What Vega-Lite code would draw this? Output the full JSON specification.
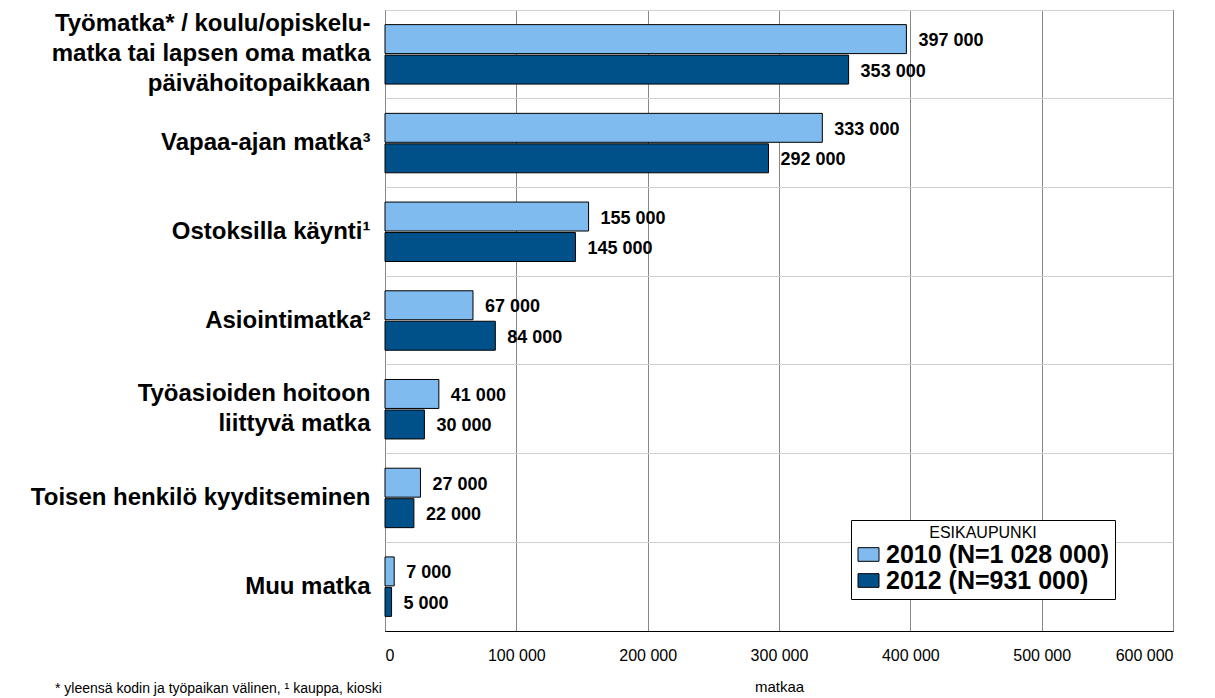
{
  "$schema": "https://vega.github.io/schema/vega-lite/v6.json",
  "width": 788,
  "height": 621,
  "autosize": "none",
  "padding": {"left": 385, "top": 10, "right": 42, "bottom": 67},
  "background": "white",
  "config": {
    "font": "Liberation Sans",
    "view": {"stroke": "black", "strokeWidth": 1}
  },
  "title": {
    "text": "* yleensä kodin ja työpaikan välinen, ¹ kauppa, kioski",
    "orient": "bottom",
    "anchor": "start",
    "frame": "group",
    "dx": -330,
    "offset": -12,
    "fontSize": 14,
    "fontWeight": "normal",
    "font": "Liberation Sans",
    "color": "black"
  },
  "data": {
    "values": [
      {"cat": "Työmatka* / koulu/opiskelu-|matka tai lapsen oma matka|päivähoitopaikkaan ", "year": "2010 (N=1 028 000)", "v": 397000},
      {"cat": "Työmatka* / koulu/opiskelu-|matka tai lapsen oma matka|päivähoitopaikkaan ", "year": "2012 (N=931 000)", "v": 353000},
      {"cat": "Vapaa-ajan matka³", "year": "2010 (N=1 028 000)", "v": 333000},
      {"cat": "Vapaa-ajan matka³", "year": "2012 (N=931 000)", "v": 292000},
      {"cat": "Ostoksilla käynti¹", "year": "2010 (N=1 028 000)", "v": 155000},
      {"cat": "Ostoksilla käynti¹", "year": "2012 (N=931 000)", "v": 145000},
      {"cat": "Asiointimatka²", "year": "2010 (N=1 028 000)", "v": 67000},
      {"cat": "Asiointimatka²", "year": "2012 (N=931 000)", "v": 84000},
      {"cat": "Työasioiden hoitoon|liittyvä matka ", "year": "2010 (N=1 028 000)", "v": 41000},
      {"cat": "Työasioiden hoitoon|liittyvä matka ", "year": "2012 (N=931 000)", "v": 30000},
      {"cat": "Toisen henkilö kyyditseminen", "year": "2010 (N=1 028 000)", "v": 27000},
      {"cat": "Toisen henkilö kyyditseminen", "year": "2012 (N=931 000)", "v": 22000},
      {"cat": "Muu matka", "year": "2010 (N=1 028 000)", "v": 7000},
      {"cat": "Muu matka", "year": "2012 (N=931 000)", "v": 5000}
    ]
  },
  "transform": [
    {"calculate": "join(split(format(datum.v, ','), ','), ' ')", "as": "lbl"}
  ],
  "encoding": {
    "y": {
      "field": "cat",
      "type": "nominal",
      "sort": null,
      "scale": {"paddingInner": 0, "paddingOuter": 0},
      "axis": {
        "title": null,
        "domain": false,
        "ticks": false,
        "grid": true,
        "bandPosition": 0,
        "gridColor": "#d0d0d0",
        "gridWidth": 1,
        "labelExpr": "split(datum.label, '|')",
        "labelFont": "Liberation Sans",
        "labelFontSize": 24,
        "labelFontWeight": "bold",
        "labelColor": "black",
        "labelPadding": 15,
        "labelLineHeight": 30,
        "labelLimit": 420,
        "labelOffset": {
          "condition": [
            {"test": "indexof(datum.value, 'Työmatka*') >= 0", "value": -30},
            {"test": "indexof(datum.value, 'Työasioiden') >= 0", "value": -15}
          ],
          "value": 0
        }
      }
    },
    "yOffset": {
      "field": "year",
      "type": "nominal",
      "scale": {"paddingOuter": 0.48, "paddingInner": 0.05}
    },
    "x": {
      "field": "v",
      "type": "quantitative",
      "scale": {"domain": [0, 600000], "nice": false},
      "axis": {
        "title": "matkaa",
        "titleFontWeight": "normal",
        "titleFontSize": 15,
        "titleColor": "black",
        "titlePadding": 16,
        "values": [0, 100000, 200000, 300000, 400000, 500000, 600000],
        "labelExpr": "join(split(format(datum.value, ','), ','), ' ')",
        "labelFontSize": 16,
        "labelColor": "black",
        "labelPadding": 16,
        "domainColor": "black",
        "ticks": false,
        "grid": true,
        "gridColor": "#888888",
        "gridWidth": 1
      }
    }
  },
  "layer": [
    {
      "mark": {"type": "bar", "stroke": "black", "strokeWidth": 1},
      "encoding": {
        "color": {
          "field": "year",
          "type": "nominal",
          "scale": {"range": ["#7fbbee", "#00508a"]},
          "legend": {
            "title": "ESIKAUPUNKI",
            "orient": "none",
            "legendX": 466,
            "legendY": 510,
            "strokeColor": "black",
            "fillColor": "white",
            "padding": 5,
            "titleAnchor": "middle",
            "titleFontWeight": "normal",
            "titleFontSize": 16,
            "titleColor": "black",
            "titleFont": "Liberation Sans",
            "titlePadding": 1,
            "labelFontSize": 25,
            "labelFontWeight": "bold",
            "labelColor": "black",
            "labelFont": "Liberation Sans",
            "labelLimit": 400,
            "symbolType": "M-1,-0.65H1V0.65H-1Z",
            "symbolSize": 441,
            "symbolStrokeColor": "black",
            "symbolStrokeWidth": 1,
            "symbolOpacity": 1,
            "rowPadding": 0,
            "labelOffset": 5
          }
        }
      }
    },
    {
      "mark": {"type": "text", "align": "left", "baseline": "middle", "dx": 12, "dy": 2, "fontSize": 18, "fontWeight": "bold", "color": "black", "font": "Liberation Sans"},
      "encoding": {
        "text": {"field": "lbl"}
      }
    }
  ]
}
